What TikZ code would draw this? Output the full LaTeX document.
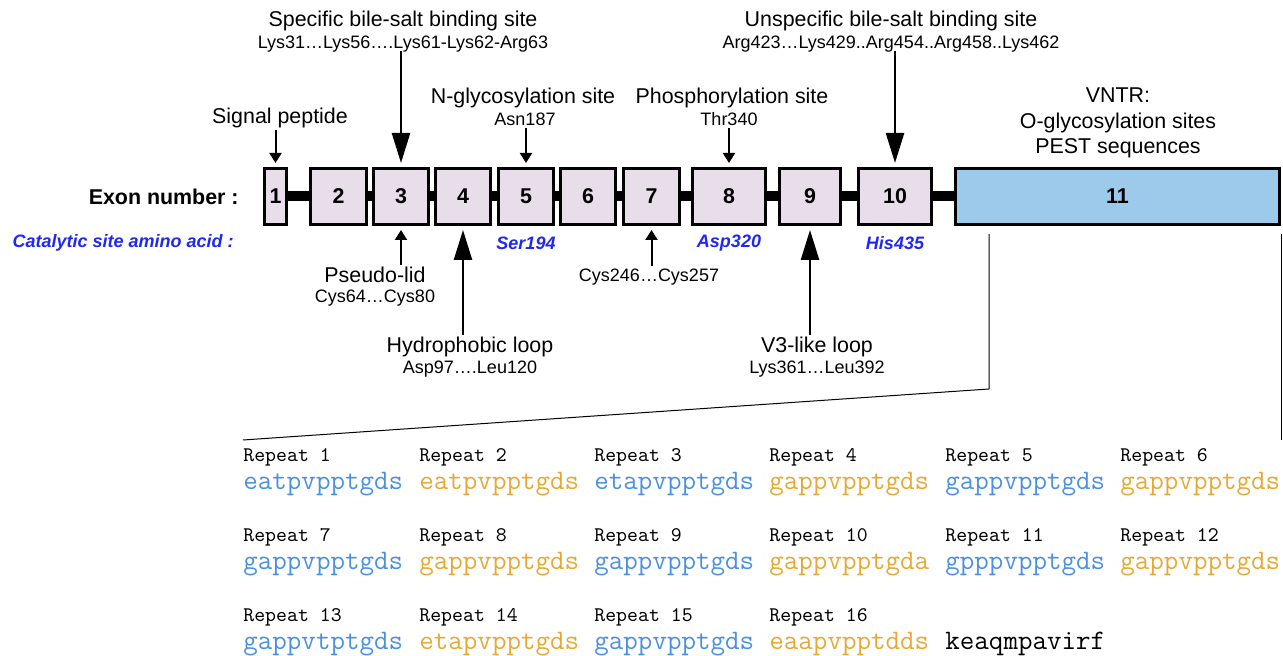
\documentclass[tikz,border=0pt]{standalone}
\usepackage{fontspec}
\setmainfont{Liberation Sans}
\usetikzlibrary{arrows.meta,positioning}
\definecolor{exonfill}{RGB}{232,222,234}
\definecolor{vntrfill}{RGB}{157,201,234}
\definecolor{catblue}{RGB}{30,40,245}
\definecolor{seqblue}{RGB}{74,144,226}
\definecolor{seqorange}{RGB}{231,168,52}
\tikzset{
  exon/.style={draw, line width=1.4pt, fill=exonfill, minimum height=28.1pt, inner sep=0pt,
    font=\bfseries\fontsize{10.7}{12}\selectfont},
  link/.style={line width=5pt},
  lab/.style={font=\fontsize{10.7}{12.6}\selectfont, inner sep=1pt},
  res/.style={font=\fontsize{9}{11}\selectfont, inner sep=1pt},
  cat/.style={font=\bfseries\itshape\fontsize{9}{11}\selectfont, text=catblue, inner sep=0pt},
  smallarr/.style={line width=1pt, -{Triangle[length=5pt,width=6pt]}, shorten >=2pt},
  bigarr/.style={line width=1.2pt, -{Triangle[length=15pt,width=9pt]}, shorten >=2pt},
  zoomline/.style={line width=0.5pt},
  replab/.style={font=\ttfamily\fontsize{10.4}{12}\selectfont, anchor=west, inner sep=0pt},
  repseq/.style={font=\ttfamily\fontsize{14.1}{16}\selectfont, anchor=west, inner sep=0pt},
}
\begin{document}
\begin{tikzpicture}[x=0.5pt,y=-0.5pt]
  \useasboundingbox (0,0) rectangle (1283,656);
  % exons
  \node[exon, minimum width=11.1pt] (e1) at (275.5,196.5) {1};
  \node[exon, minimum width=28.1pt] (e2) at (338.5,196.5) {2};
  \node[exon, minimum width=27.6pt] (e3) at (401,196.5) {3};
  \node[exon, minimum width=27.6pt] (e4) at (463,196.5) {4};
  \node[exon, minimum width=27.6pt] (e5) at (526,196.5) {5};
  \node[exon, minimum width=27.6pt] (e6) at (588,196.5) {6};
  \node[exon, minimum width=28.1pt] (e7) at (651.5,196.5) {7};
  \node[exon, minimum width=36.6pt] (e8) at (729,196.5) {8};
  \node[exon, minimum width=30.6pt] (e9) at (810,196.5) {9};
  \node[exon, minimum width=36.6pt] (e10) at (895,196.5) {10};
  \node[exon, fill=vntrfill, minimum width=161.9pt] (e11) at (1117.5,196.5) {11};
  % introns
  \draw[link] (e1.east) -- (e2.west);
  \draw[link] (e2.east) -- (e3.west);
  \draw[link] (e3.east) -- (e4.west);
  \draw[link] (e4.east) -- (e5.west);
  \draw[link] (e5.east) -- (e6.west);
  \draw[link] (e6.east) -- (e7.west);
  \draw[link] (e7.east) -- (e8.west);
  \draw[link] (e8.east) -- (e9.west);
  \draw[link] (e9.east) -- (e10.west);
  \draw[link] (e10.east) -- (e11.west);
  % row labels
  \node[font=\bfseries\fontsize{10.7}{12}\selectfont, anchor=east, inner sep=0pt] (exlab) at (239,197) {Exon number :};
  \node[cat, anchor=east] (catlab) at (234,243) {Catalytic site amino acid :};
  \node[cat] (ser) at (e5 |- 0,243) {Ser194};
  \node[cat] (asp) at (e8 |- 0,243) {Asp320};
  \node[cat] (his) at (e10 |- 0,243) {His435};
  % sites above
  \node[lab] (sig) at (280,118) {Signal peptide};
  \draw[smallarr] (sig.south -| e1.north) -- (e1.north);
  \node[lab] (sbs) at (403,21) {Specific bile-salt binding site};
  \node[res] (sbsres) at (403,44) {Lys31…Lys56….Lys61-Lys62-Arg63};
  \draw[bigarr] (sbsres.south -| e3.north) ++(0,-4) -- (e3.north);
  \node[lab] (ngl) at (523,98) {N-glycosylation site};
  \node[res] (nglres) at (525,119) {Asn187};
  \draw[smallarr] (nglres.south -| e5.north) -- (e5.north);
  \node[lab] (pho) at (732,98) {Phosphorylation site};
  \node[res] (phores) at (729,119) {Thr340};
  \draw[smallarr] (phores.south -| e8.north) -- (e8.north);
  \node[lab] (ubs) at (891,21) {Unspecific bile-salt binding site};
  \node[res] (ubsres) at (891,44) {Arg423…Lys429..Arg454..Arg458..Lys462};
  \draw[bigarr] (ubsres.south -| e10.north) ++(0,-4) -- (e10.north);
  \node[lab, align=center] (vntr) at (1118,123) {VNTR:\\O-glycosylation sites\\PEST sequences};
  % sites below
  \node[lab] (pl) at (375,275) {Pseudo-lid};
  \node[res] (plres) at (375,298) {Cys64…Cys80};
  \draw[smallarr] (pl.north -| e3.south) -- (e3.south);
  \node[lab] (hl) at (470,347) {Hydrophobic loop};
  \node[res] (hlres) at (470,369) {Asp97….Leu120};
  \draw[bigarr] (hl.north -| e4.south) -- (e4.south);
  \node[res] (cys) at (649,277) {Cys246…Cys257};
  \draw[smallarr] (cys.north -| e7.south) -- (e7.south);
  \node[lab] (v3) at (817,347) {V3-like loop};
  \node[res] (v3res) at (817,369) {Lys361…Leu392};
  \draw[bigarr] (v3.north -| e9.south) -- (e9.south);
  % zoom on exon 11
  \coordinate (zl1) at (989,234);
  \coordinate (zl2) at (989,389);
  \coordinate (zl3) at (243,440);
  \coordinate (zr1) at (1281,234);
  \coordinate (zr2) at (1281,440);
  \draw[zoomline] (zl1) -- (zl2) -- (zl3);
  \draw[zoomline] (zr1) -- (zr2);
  % repeats
  \node[replab] (r1) at (243,457) {Repeat 1};
  \node[repseq, text=seqblue] (s1) at (243,484) {eatpvpptgds};
  \node[replab] (r2) at (419,457) {Repeat 2};
  \node[repseq, text=seqorange] (s2) at (419,484) {eatpvpptgds};
  \node[replab] (r3) at (594,457) {Repeat 3};
  \node[repseq, text=seqblue] (s3) at (594,484) {etapvpptgds};
  \node[replab] (r4) at (769,457) {Repeat 4};
  \node[repseq, text=seqorange] (s4) at (769,484) {gappvpptgds};
  \node[replab] (r5) at (945,457) {Repeat 5};
  \node[repseq, text=seqblue] (s5) at (945,484) {gappvpptgds};
  \node[replab] (r6) at (1120,457) {Repeat 6};
  \node[repseq, text=seqorange] (s6) at (1120,484) {gappvpptgds};
  \node[replab] (r7) at (243,537) {Repeat 7};
  \node[repseq, text=seqblue] (s7) at (243,564) {gappvpptgds};
  \node[replab] (r8) at (419,537) {Repeat 8};
  \node[repseq, text=seqorange] (s8) at (419,564) {gappvpptgds};
  \node[replab] (r9) at (594,537) {Repeat 9};
  \node[repseq, text=seqblue] (s9) at (594,564) {gappvpptgds};
  \node[replab] (r10) at (769,537) {Repeat 10};
  \node[repseq, text=seqorange] (s10) at (769,564) {gappvpptgda};
  \node[replab] (r11) at (945,537) {Repeat 11};
  \node[repseq, text=seqblue] (s11) at (945,564) {gpppvpptgds};
  \node[replab] (r12) at (1120,537) {Repeat 12};
  \node[repseq, text=seqorange] (s12) at (1120,564) {gappvpptgds};
  \node[replab] (r13) at (243,617) {Repeat 13};
  \node[repseq, text=seqblue] (s13) at (243,644) {gappvtptgds};
  \node[replab] (r14) at (419,617) {Repeat 14};
  \node[repseq, text=seqorange] (s14) at (419,644) {etapvpptgds};
  \node[replab] (r15) at (594,617) {Repeat 15};
  \node[repseq, text=seqblue] (s15) at (594,644) {gappvpptgds};
  \node[replab] (r16) at (769,617) {Repeat 16};
  \node[repseq, text=seqorange] (s16) at (769,644) {eaapvpptdds};
  \node[repseq] (tail) at (945,644) {keaqmpavirf};
\end{tikzpicture}
\end{document}
